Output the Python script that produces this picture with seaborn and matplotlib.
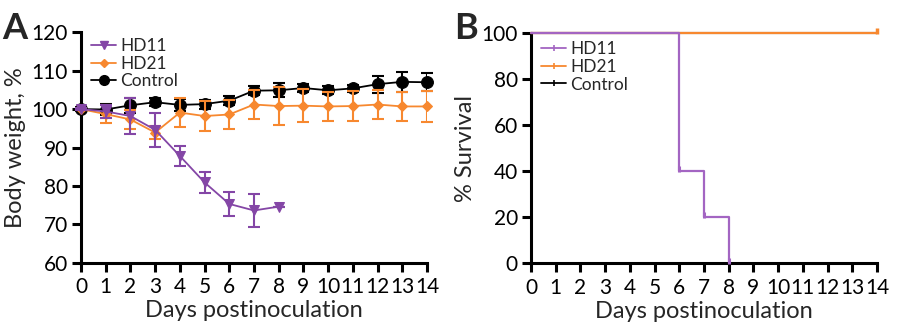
import numpy as np
import pandas as pd
import matplotlib
matplotlib.use("Agg")
import matplotlib.pyplot as plt
import seaborn as sns
from matplotlib.lines import Line2D

# ---- data ----
days = list(range(15))
ctrl_mean = [100, 99.9, 101.0, 101.8, 101.1, 101.3, 102.2, 104.8, 104.9, 105.5, 104.9, 105.4, 106.5, 107.1, 107.0]
ctrl_sd = [0.6, 1.5, 2.0, 1.0, 1.5, 1.2, 1.2, 1.2, 1.8, 1.0, 1.0, 1.0, 2.2, 2.6, 2.3]
hd21_mean = [100, 98.7, 97.3, 93.9, 99.1, 98.2, 98.6, 101.2, 100.8, 100.9, 100.7, 100.8, 101.2, 100.7, 100.7]
hd21_sd = [0.3, 2.3, 2.5, 1.7, 3.7, 4.0, 3.7, 3.9, 5.0, 4.3, 3.8, 3.8, 3.8, 3.8, 4.0]
hd11_days = list(range(9))
hd11_mean = [100, 99.4, 98.2, 94.6, 87.8, 80.9, 75.3, 73.6, 74.6]
hd11_sd = [0.3, 1.8, 4.6, 4.4, 2.6, 2.8, 3.2, 4.3, 0.0]

surv_hd11_days = [0, 6, 7, 8]
surv_hd11 = [100, 40, 20, 0]
surv_hd21_days = [0, 14]
surv_hd21 = [100, 100]
surv_ctrl_days = [0, 14]
surv_ctrl = [100, 100]

xticks = list(range(15))
yticks_a = [60, 70, 80, 90, 100, 110, 120]
yticks_b = [0, 20, 40, 60, 80, 100]

PURPLE = "#8446A6"
PURPLE_L = "#A365C2"
ORANGE = "#F7882F"
BLACK = "#000000"

sns.set_theme(style="ticks")
plt.rcParams["font.family"] = ["Lato", "DejaVu Sans"]

fig = plt.figure(figsize=(9, 3.3), dpi=100)
axA = fig.add_axes([0.090, 0.204, 0.3844, 0.698])
axB = fig.add_axes([0.590, 0.202, 0.3844, 0.697])

def style(ax):
    sns.despine(ax=ax)
    for s in ["left", "bottom"]:
        ax.spines[s].set_linewidth(2.2)
        ax.spines[s].set_color("black")
    ax.tick_params(axis="both", which="major", length=6.5, width=2.2, color="black",
                   labelsize=15, pad=3, labelcolor="black")
    ax.tick_params(axis="x", pad=4)

# ---- panel A ----
dfc = pd.DataFrame({"day": days, "val": ctrl_mean})
df21 = pd.DataFrame({"day": days, "val": hd21_mean})
df11 = pd.DataFrame({"day": hd11_days, "val": hd11_mean})

axA.errorbar(days, ctrl_mean, yerr=ctrl_sd, fmt="none", ecolor=BLACK, elinewidth=1.5,
             capsize=4.5, capthick=1.5, zorder=2)
sns.lineplot(data=dfc, x="day", y="val", ax=axA, color=BLACK, marker="o", markersize=8.5,
             markeredgecolor=BLACK, linewidth=1.3, zorder=3, legend=False)
axA.errorbar(days, hd21_mean, yerr=hd21_sd, fmt="none", ecolor=ORANGE, elinewidth=1.5,
             capsize=4.5, capthick=1.5, zorder=4)
sns.lineplot(data=df21, x="day", y="val", ax=axA, color=ORANGE, marker="D", markersize=5.5,
             markeredgecolor=ORANGE, linewidth=1.3, zorder=5, legend=False)
axA.errorbar(hd11_days, hd11_mean, yerr=hd11_sd, fmt="none", ecolor=PURPLE, elinewidth=1.5,
             capsize=4.5, capthick=1.5, zorder=6)
sns.lineplot(data=df11, x="day", y="val", ax=axA, color=PURPLE, marker="v", markersize=7.5,
             markeredgecolor=PURPLE, linewidth=1.3, zorder=7, legend=False)

axA.set_xlim(0, 14)
axA.set_ylim(60, 120)
axA.set_xticks(xticks)
axA.set_yticks(yticks_a)
axA.set_xlabel("Days postinoculation", fontsize=17, labelpad=2)
axA.set_ylabel("Body weight, %", fontsize=17, labelpad=4)
style(axA)
for ln in axA.lines:
    ln.set_clip_on(False)

hA = [Line2D([], [], color=PURPLE, marker="v", markersize=6, lw=1.3),
      Line2D([], [], color=ORANGE, marker="D", markersize=4.5, lw=1.3),
      Line2D([], [], color=BLACK, marker="o", markersize=7, lw=1.3)]
axA.legend(hA, ["HD11", "HD21", "Control"], loc="upper left", bbox_to_anchor=(0.0, 1.02),
           frameon=False, fontsize=12.5, handlelength=1.4, handletextpad=0.25,
           labelspacing=0.09, borderaxespad=0.2)

# ---- panel B ----
dsc = pd.DataFrame({"day": surv_ctrl_days, "val": surv_ctrl})
ds21 = pd.DataFrame({"day": surv_hd21_days, "val": surv_hd21})
ds11 = pd.DataFrame({"day": surv_hd11_days, "val": surv_hd11})
sns.lineplot(data=dsc, x="day", y="val", ax=axB, color=BLACK, drawstyle="steps-post",
             linewidth=1.5, zorder=3, legend=False)
sns.lineplot(data=ds21, x="day", y="val", ax=axB, color=ORANGE, drawstyle="steps-post",
             linewidth=1.6, zorder=4, legend=False)
axB.plot(surv_hd21_days[-1:], [surv_hd21[-1] + 1.2], marker="|", markersize=5,
         mew=2.5, color=ORANGE, clip_on=False, zorder=5)
sns.lineplot(data=ds11, x="day", y="val", ax=axB, color=PURPLE_L, drawstyle="steps-post",
             linewidth=1.6, zorder=6, legend=False)
axB.plot(surv_hd11_days[1:], [v + 1 for v in surv_hd11[1:]], ls="none", marker="|",
         markersize=4, mew=2.2, color=PURPLE_L, clip_on=False, zorder=7)

axB.set_xlim(0, 14)
axB.set_ylim(0, 100)
axB.set_xticks(xticks)
axB.set_yticks(yticks_b)
axB.set_xlabel("Days postinoculation", fontsize=17, labelpad=2)
axB.set_ylabel("% Survival", fontsize=17, labelpad=4)
style(axB)
for ln in axB.lines:
    ln.set_clip_on(False)

hB = [Line2D([], [], color=PURPLE_L, marker="|", markersize=4, mew=1.2, lw=1.3),
      Line2D([], [], color=ORANGE, marker="|", markersize=4, mew=1.2, lw=1.3),
      Line2D([], [], color=BLACK, marker="|", markersize=4, mew=1.2, lw=1.3)]
axB.legend(hB, ["HD11", "HD21", "Control"], loc="upper left", bbox_to_anchor=(0.0, 1.01),
           frameon=False, fontsize=12.5, handlelength=1.4, handletextpad=0.25,
           labelspacing=0.09, borderaxespad=0.2)

fig.text(0.003, 0.965, "A", fontsize=26, fontweight="bold", va="top", ha="left")
fig.text(0.505, 0.965, "B", fontsize=26, fontweight="bold", va="top", ha="left")

fig.savefig("out.png", dpi=100)
